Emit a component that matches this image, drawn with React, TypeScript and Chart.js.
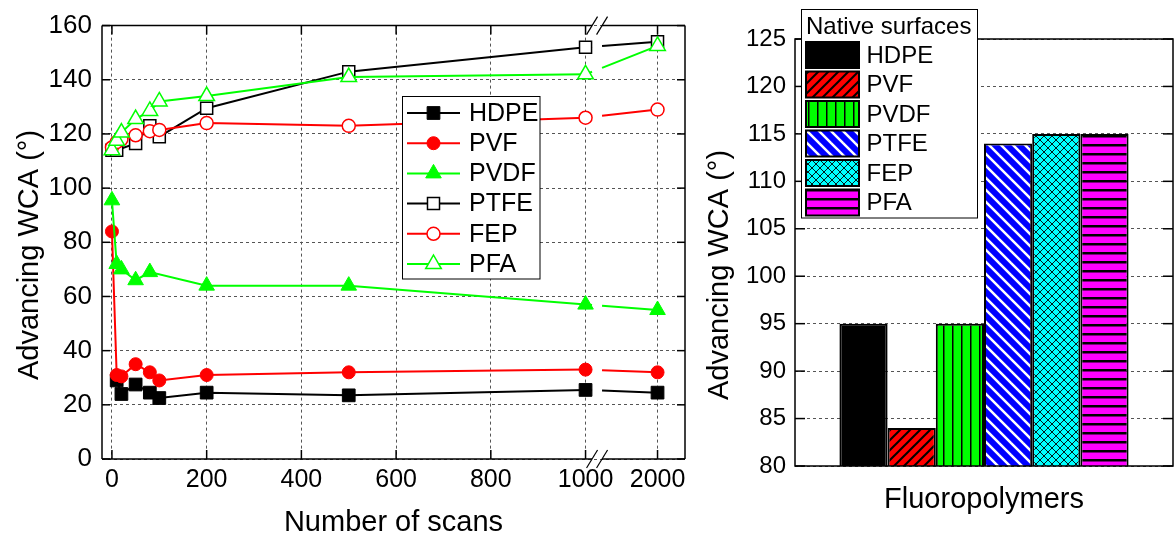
import React, { useEffect, useRef } from "react";
import { Chart, registerables } from "chart.js";

Chart.register(...registerables);

const FONT_FAMILY = 'Arial, "Liberation Sans", Helvetica, sans-serif';
Chart.defaults.font.family = FONT_FAMILY;
Chart.defaults.color = "#000";

// ---------- Left panel: advancing WCA versus number of scans ----------
const scans = [0, 10, 20, 50, 80, 100, 200, 500, 1000, 2000];
const hdpeWCA = [null, 29, 24, 27.5, 24.5, 22.5, 24.5, 23.5, 25.5, 24.5];
const pvfWCA = [84, 31, 30.5, 35, 32, 29, 31, 32, 33, 32];
const pvdfWCA = [95.5, 72, 70, 66, 69, null, 64, 64, 57, 55];
const ptfeWCA = [114, 114, null, 116.5, 123, 119, 129.5, 143, 152, 154];
const fepWCA = [115, 117, 118, 119.5, 121, 121.5, 124, 123, 126, 129];
const pfaWCA = [114, 117.5, 120.5, 125.5, 128.5, 132, 134, 141, 142, 152.5];
const scanTicks = [0, 200, 400, 600, 800, 1000, 2000];
const wcaTicks = [0, 20, 40, 60, 80, 100, 120, 140, 160];

// ---------- Right panel: native surfaces ----------
const polymers = ["HDPE", "PVF", "PVDF", "PTFE", "FEP", "PFA"];
const nativeWCA = [95, 84, 95, 114, 115, 115];
const nativeTicks = [80, 85, 90, 95, 100, 105, 110, 115, 120, 125];
const groupLabel = "Fluoropolymers";
const legendTitle = "Native surfaces";

const yTitle = "Advancing WCA (°)";
const xTitle = "Number of scans";

// The scan axis is broken after 1000 and the 1000–2000 stretch is compressed.
const BREAK_AT = 1000;
const BREAK_SCALE = 0.152;
const toAxis = (s: number) => (s <= BREAK_AT ? s : BREAK_AT + (s - BREAK_AT) * BREAK_SCALE);
const fromAxis = (a: number) => (a <= BREAK_AT ? a : BREAK_AT + (a - BREAK_AT) / BREAK_SCALE);
const GAP_START = 6.5; // px after the 1000 point where the line is interrupted
const GAP_WIDTH = 10;

type MarkerStyle = "rect" | "circle" | "triangle";
interface LineSeries {
  label: string;
  values: (number | null)[];
  color: string;
  marker: MarkerStyle;
  radius: number;
  filled: boolean;
}

const lineSeries: LineSeries[] = [
  { label: "HDPE", values: hdpeWCA, color: "#000000", marker: "rect", radius: 9, filled: true },
  { label: "PVF", values: pvfWCA, color: "#ff0000", marker: "circle", radius: 6.5, filled: true },
  { label: "PVDF", values: pvdfWCA, color: "#00ff00", marker: "triangle", radius: 9, filled: true },
  { label: "PTFE", values: ptfeWCA, color: "#000000", marker: "rect", radius: 8.5, filled: false },
  { label: "FEP", values: fepWCA, color: "#ff0000", marker: "circle", radius: 6.5, filled: false },
  { label: "PFA", values: pfaWCA, color: "#00ff00", marker: "triangle", radius: 9, filled: false },
];

function drawMarker(
  ctx: CanvasRenderingContext2D,
  style: MarkerStyle,
  x: number,
  y: number,
  r: number,
  fill: string,
  stroke: string,
  lw: number
) {
  ctx.beginPath();
  if (style === "rect") {
    const s = r * Math.SQRT1_2;
    ctx.rect(x - s, y - s, 2 * s, 2 * s);
  } else if (style === "circle") {
    ctx.arc(x, y, r, 0, Math.PI * 2);
  } else {
    ctx.moveTo(x, y - r);
    ctx.lineTo(x + 0.866 * r, y + 0.5 * r);
    ctx.lineTo(x - 0.866 * r, y + 0.5 * r);
    ctx.closePath();
  }
  ctx.fillStyle = fill;
  ctx.fill();
  ctx.lineWidth = lw;
  ctx.strokeStyle = stroke;
  ctx.stroke();
}

function seg(ctx: CanvasRenderingContext2D, x0: number, y0: number, x1: number, y1: number) {
  ctx.beginPath();
  ctx.moveTo(x0, y0);
  ctx.lineTo(x1, y1);
  ctx.stroke();
}

function text(
  ctx: CanvasRenderingContext2D,
  str: string,
  x: number,
  y: number,
  size: number,
  align: CanvasTextAlign,
  baseline: CanvasTextBaseline,
  rotate = 0
) {
  ctx.save();
  ctx.translate(x, y);
  if (rotate) ctx.rotate(rotate);
  ctx.font = `${size}px ${FONT_FAMILY}`;
  ctx.fillStyle = "#000";
  ctx.textAlign = align;
  ctx.textBaseline = baseline;
  ctx.fillText(str, 0, 0);
  ctx.restore();
}

// Interrupts the line segment that crosses the axis break.
const breakDash = (sc: any) => {
  const { p0, p1 } = sc;
  if (p0.parsed.x < BREAK_AT || p1.parsed.x <= BREAK_AT) return undefined;
  const dx = p1.x - p0.x;
  const dy = p1.y - p0.y;
  const k = Math.hypot(dx, dy) / dx;
  return [GAP_START * k, GAP_WIDTH * k, 10000];
};

const leftDecor = {
  id: "leftDecor",
  afterDraw(chart: any) {
    const { ctx, chartArea: a, scales } = chart;
    const x = scales.x;
    const y = scales.y;
    ctx.save();
    ctx.strokeStyle = "#000";
    ctx.lineWidth = 1.5;
    const bx = x.getPixelForValue(BREAK_AT);
    const g0 = bx + GAP_START;
    const g1 = bx + GAP_START + GAP_WIDTH;
    // frame with the break in top and bottom axes
    seg(ctx, a.left, a.top, a.left, a.bottom);
    seg(ctx, a.right, a.top, a.right, a.bottom);
    for (const yy of [a.top, a.bottom]) {
      seg(ctx, a.left, yy, g0, yy);
      seg(ctx, g1, yy, a.right, yy);
    }
    ctx.lineWidth = 1.2;
    for (const yy of [a.top, a.bottom]) {
      for (const xx of [g0, g1]) seg(ctx, xx - 5.5, yy + 9, xx + 5.5, yy - 9);
    }
    // inward tick marks
    ctx.lineWidth = 1.5;
    for (const v of wcaTicks) {
      const py = y.getPixelForValue(v);
      seg(ctx, a.left, py, a.left + 8, py);
      seg(ctx, a.right, py, a.right - 8, py);
    }
    for (const v of scanTicks) {
      const px = x.getPixelForValue(toAxis(v));
      seg(ctx, px, a.top, px, a.top + 9);
      seg(ctx, px, a.bottom, px, a.bottom - 9);
    }
    // axis titles
    text(ctx, yTitle, 38, 255, 29, "center", "alphabetic", -Math.PI / 2);
    text(ctx, xTitle, (a.left + a.right) / 2, 531, 29, "center", "alphabetic");

    // legend box
    const L = { left: 402.5, top: 96.5, right: 540, bottom: 279 };
    ctx.fillStyle = "#fff";
    ctx.fillRect(L.left, L.top, L.right - L.left, L.bottom - L.top);
    ctx.lineWidth = 1;
    ctx.strokeStyle = "#000";
    ctx.strokeRect(L.left, L.top, L.right - L.left, L.bottom - L.top);
    lineSeries.forEach((s, i) => {
      const ry = 113 + i * 30.2;
      ctx.strokeStyle = s.color;
      ctx.lineWidth = 2;
      seg(ctx, 407, ry, 460, ry);
      drawMarker(ctx, s.marker, 433.5, ry, s.radius, s.filled ? s.color : "#fff", s.color, s.filled ? 1 : 1.5);
      text(ctx, s.label, 469, ry + 1, 25, "left", "middle");
    });
    ctx.restore();
  },
};

function leftConfig(): any {
  const n = lineSeries.length;
  return {
    type: "line",
    data: {
      datasets: lineSeries.map((s, i) => ({
        label: s.label,
        data: scans
          .map((sc, k) => ({ x: toAxis(sc), y: s.values[k] }))
          .filter((p) => p.y !== null),
        borderColor: s.color,
        borderWidth: 2,
        pointStyle: s.marker,
        pointRadius: s.radius,
        pointBackgroundColor: s.filled ? s.color : "#ffffff",
        pointBorderColor: s.color,
        pointBorderWidth: s.filled ? 1 : 1.5,
        order: n - i,
        segment: { borderDash: breakDash },
        clip: false,
      })),
    },
    options: {
      responsive: false,
      animation: false,
      devicePixelRatio: 1,
      layout: { padding: { left: 0, top: 19, right: 15, bottom: 0 } },
      plugins: { legend: { display: false }, tooltip: { enabled: false } },
      scales: {
        x: {
          type: "linear",
          min: -21,
          max: 1210,
          afterBuildTicks: (axis: any) => {
            axis.ticks = scanTicks.map((v) => ({ value: toAxis(v) }));
          },
          afterFit: (axis: any) => {
            axis.height = 83;
          },
          ticks: {
            callback: (v: number) => String(Math.round(fromAxis(v))),
            font: { size: 25 },
            color: "#000",
            padding: 6,
            maxRotation: 0,
            autoSkip: false,
          },
          grid: { color: "#555", lineWidth: 1, drawTicks: false },
          border: { display: false, dash: [3, 3] },
        },
        y: {
          min: 0,
          max: 160,
          afterBuildTicks: (axis: any) => {
            axis.ticks = wcaTicks.map((v) => ({ value: v }));
          },
          afterFit: (axis: any) => {
            axis.width = 102;
          },
          ticks: { font: { size: 26 }, color: "#000", padding: 10 },
          grid: { color: "#555", lineWidth: 1, drawTicks: false },
          border: { display: false, dash: [3, 3] },
        },
      },
    },
    plugins: [leftDecor],
  };
}

// ---------- fill patterns for the bars ----------
function makePattern(bg: string, fg: string, size: number, lw: number, kind: string): CanvasPattern | string {
  const c = document.createElement("canvas");
  c.width = size;
  c.height = size;
  const g = c.getContext("2d");
  if (!g) return bg;
  g.fillStyle = bg;
  g.fillRect(0, 0, size, size);
  g.strokeStyle = fg;
  g.fillStyle = fg;
  g.lineWidth = lw;
  const ln = (x0: number, y0: number, x1: number, y1: number) => {
    g.beginPath();
    g.moveTo(x0, y0);
    g.lineTo(x1, y1);
    g.stroke();
  };
  if (kind === "fwd" || kind === "cross") {
    ln(-1, size + 1, size + 1, -1);
    ln(-1, 1, 1, -1);
    ln(size - 1, size + 1, size + 1, size - 1);
  }
  if (kind === "back" || kind === "cross") {
    ln(-1, -1, size + 1, size + 1);
    ln(size - 1, -1, size + 1, 1);
    ln(-1, size - 1, 1, size + 1);
  }
  if (kind === "vert") g.fillRect(0, 0, lw, size);
  if (kind === "horiz") g.fillRect(0, 0, size, lw);
  return g.createPattern(c, "repeat") || bg;
}

function barFills(): (CanvasPattern | string)[] {
  return [
    "#000000",
    makePattern("#ff0000", "#000000", 10, 2, "fwd"),
    makePattern("#00ff00", "#000000", 9, 1.5, "vert"),
    makePattern("#0000ff", "#ffffff", 12, 2.5, "back"),
    makePattern("#00ffff", "#000000", 8, 0.9, "cross"),
    makePattern("#ff00ff", "#000000", 9, 2.5, "horiz"),
  ];
}

function rightConfig(): any {
  const fills = barFills();
  const rightDecor = {
    id: "rightDecor",
    afterDraw(chart: any) {
      const { ctx, chartArea: a, scales } = chart;
      const y = scales.y;
      ctx.save();
      ctx.strokeStyle = "#000";
      ctx.lineWidth = 1.5;
      ctx.strokeRect(a.left, a.top, a.right - a.left, a.bottom - a.top);
      for (const v of nativeTicks) {
        const py = y.getPixelForValue(v);
        seg(ctx, a.left, py, a.left + 10, py);
        seg(ctx, a.right, py, a.right - 10, py);
      }
      text(ctx, yTitle, 28, 275, 29, "center", "alphabetic", -Math.PI / 2);
      text(ctx, groupLabel, (a.left + a.right) / 2, 508, 29, "center", "alphabetic");

      // legend
      const L = { left: 101.5, top: 9.5, right: 277.5, bottom: 218 };
      ctx.fillStyle = "#fff";
      ctx.fillRect(L.left, L.top, L.right - L.left, L.bottom - L.top);
      ctx.lineWidth = 1;
      ctx.strokeRect(L.left, L.top, L.right - L.left, L.bottom - L.top);
      text(ctx, legendTitle, 106, 27, 24, "left", "middle");
      polymers.forEach((p, i) => {
        const top = 42 + i * 29.5;
        ctx.fillStyle = fills[i] as any;
        ctx.fillRect(106, top, 53, 26);
        ctx.lineWidth = 2;
        ctx.strokeStyle = "#000";
        ctx.strokeRect(106, top, 53, 26);
        text(ctx, p, 166.5, top + 14, 24, "left", "middle");
      });
      ctx.restore();
    },
  };
  return {
    type: "bar",
    data: {
      labels: [groupLabel],
      datasets: polymers.map((p, i) => ({
        label: p,
        data: [nativeWCA[i]],
        backgroundColor: fills[i],
        borderColor: "#000000",
        borderWidth: 2,
        borderSkipped: false,
        barPercentage: 1,
        categoryPercentage: 0.765,
      })),
    },
    options: {
      responsive: false,
      animation: false,
      devicePixelRatio: 1,
      layout: { padding: { left: 0, top: 39, right: 17, bottom: 0 } },
      plugins: { legend: { display: false }, tooltip: { enabled: false } },
      scales: {
        x: {
          type: "category",
          ticks: { display: false },
          grid: { display: false, drawTicks: false },
          border: { display: false },
          afterFit: (axis: any) => {
            axis.height = 76;
          },
        },
        y: {
          min: 80,
          max: 125,
          afterBuildTicks: (axis: any) => {
            axis.ticks = nativeTicks.map((v) => ({ value: v }));
          },
          afterFit: (axis: any) => {
            axis.width = 95;
          },
          ticks: { font: { size: 24 }, color: "#000", padding: 9 },
          grid: { color: "#555", lineWidth: 1, drawTicks: false },
          border: { display: false, dash: [3, 3] },
        },
      },
    },
    plugins: [rightDecor],
  };
}

export default function App() {
  const leftRef = useRef<HTMLCanvasElement>(null);
  const rightRef = useRef<HTMLCanvasElement>(null);

  useEffect(() => {
    const left = new Chart(leftRef.current as HTMLCanvasElement, leftConfig());
    const right = new Chart(rightRef.current as HTMLCanvasElement, rightConfig());
    return () => {
      left.destroy();
      right.destroy();
    };
  }, []);

  return (
    <div
      style={{
        position: "absolute",
        left: 0,
        top: 0,
        width: 1174,
        height: 542,
        overflow: "hidden",
        background: "#fff",
      }}
    >
      <canvas ref={leftRef} width={700} height={542} style={{ position: "absolute", left: 0, top: 0 }} />
      <canvas ref={rightRef} width={490} height={542} style={{ position: "absolute", left: 700, top: 0 }} />
    </div>
  );
}
